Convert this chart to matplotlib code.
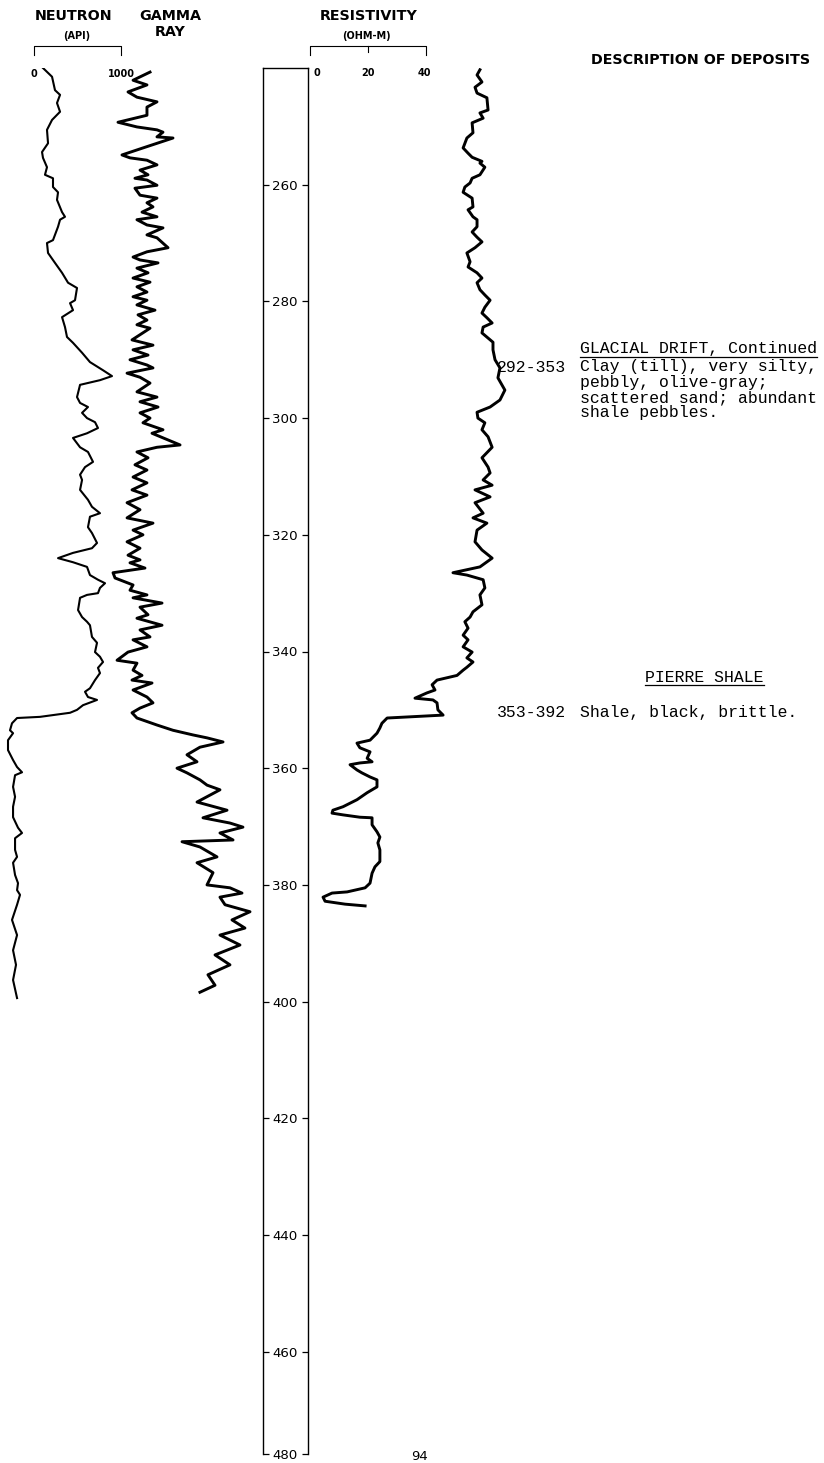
import matplotlib
matplotlib.use("Agg")
import matplotlib.pyplot as plt
from matplotlib import transforms
from matplotlib.lines import Line2D

W, H = 824, 1463

# ---- log data (depth in feet) ----
neutron_depth = [240.0, 241.5, 243.8, 244.6, 246.0, 247.5, 248.9, 250.6, 252.9, 254.4,
                 255.4, 257.0, 258.3, 258.9, 260.4, 261.3, 262.6, 264.7, 265.5, 266.0,
                 267.2, 269.5, 270.0, 271.7, 273.4, 275.1, 276.8, 277.7, 279.8, 280.3,
                 281.5, 282.7, 284.4, 286.1, 287.1, 288.8, 290.4, 291.8, 292.8, 293.5,
                 294.3, 296.4, 297.4, 298.1, 299.1, 300.0, 300.7, 301.7, 302.6, 303.4,
                 305.0, 305.8, 307.5, 308.4, 309.7, 310.6, 312.3, 314.0, 315.2, 316.3,
                 316.9, 318.7, 319.7, 321.4, 322.3, 323.1, 324.0, 324.7, 325.5, 326.9,
                 327.7, 328.3, 329.1, 330.0, 330.3, 330.8, 332.9, 334.1, 334.9, 335.5,
                 337.5, 338.5, 340.1, 340.9, 341.8, 342.8, 343.7, 344.9, 346.3, 346.9,
                 347.8, 348.3, 349.2, 350.0, 350.5, 351.2, 351.4, 352.3, 353.5, 354.0,
                 355.2, 356.9, 358.6, 359.8, 360.7, 361.2, 363.2, 364.9, 366.6, 368.4,
                 370.2, 371.1, 372.0, 374.0, 375.2, 376.2, 378.3, 379.7, 380.9, 381.7,
                 383.4, 386.0, 388.6, 391.2, 393.7, 396.3, 399.4]
neutron_api = [103, 207, 241, 299, 264, 299, 207, 149, 161, 92,
               103, 149, 126, 218, 218, 276, 264, 322, 356, 299,
               276, 218, 149, 161, 241, 322, 391, 494, 471, 414,
               448, 322, 356, 379, 448, 552, 643, 793, 896, 758,
               529, 494, 529, 620, 552, 609, 701, 735, 609, 448,
               529, 620, 678, 586, 529, 552, 529, 620, 666, 758,
               643, 620, 666, 724, 666, 448, 276, 448, 609, 643,
               735, 816, 758, 735, 609, 529, 506, 552, 609, 643,
               666, 724, 701, 758, 793, 735, 758, 701, 643, 586,
               620, 724, 563, 494, 414, 69, -195, -253, -276, -241,
               -299, -299, -241, -195, -138, -218, -241, -218, -241, -241,
               -184, -138, -218, -218, -195, -241, -218, -184, -195, -161,
               -195, -253, -195, -241, -207, -241, -195]

gamma_depth = [240.7, 242.1, 242.9, 244.1, 245.0, 245.8, 246.7, 248.1, 249.3, 250.1,
               250.6, 251.0, 251.8, 252.0, 252.9, 253.7, 254.9, 255.4, 255.8, 256.6,
               257.5, 258.3, 258.9, 259.2, 260.1, 260.6, 261.8, 262.3, 263.1, 263.8,
               264.7, 265.5, 266.0, 266.9, 267.4, 268.6, 269.1, 270.8, 271.5, 272.4,
               272.9, 273.4, 274.3, 275.1, 276.0, 276.7, 277.5, 278.4, 279.2, 279.8,
               280.6, 281.5, 282.3, 283.2, 284.0, 284.6, 286.6, 287.5, 288.3, 289.2,
               290.0, 290.9, 291.4, 292.3, 293.0, 294.0, 295.5, 296.4, 297.2, 298.1,
               299.1, 300.0, 300.8, 302.0, 302.6, 304.6, 305.0, 305.8, 306.8, 308.0,
               308.9, 310.1, 311.1, 312.3, 313.2, 314.5, 315.7, 317.1, 318.0, 319.2,
               320.0, 321.2, 322.3, 323.5, 324.3, 324.8, 325.7, 326.5, 327.4, 328.6,
               329.5, 330.3, 330.8, 331.7, 332.4, 333.7, 334.3, 335.5, 336.3, 337.5,
               338.0, 339.2, 340.1, 341.5, 342.0, 343.2, 344.1, 344.9, 345.4, 346.6,
               347.8, 348.8, 349.7, 350.5, 351.4, 352.6, 353.5, 354.3, 354.8, 355.5,
               356.4, 357.7, 358.9, 360.0, 360.8, 362.0, 362.9, 363.7, 365.8, 367.2,
               368.5, 369.4, 370.1, 371.1, 372.3, 372.6, 373.5, 375.2, 376.2, 377.9,
               380.0, 380.5, 381.4, 382.1, 383.4, 384.6, 386.0, 387.4, 388.6, 390.3,
               392.0, 393.7, 395.4, 397.2, 398.4]
gamma_api = [1333, 1138, 1298, 1080, 1183, 1413, 1298, 1298, 965, 1183,
             1413, 1482, 1413, 1597, 1413, 1252, 1011, 1103, 1298, 1413,
             1218, 1310, 1160, 1298, 1413, 1160, 1218, 1413, 1298, 1367,
             1241, 1413, 1183, 1298, 1482, 1298, 1413, 1540, 1298, 1138,
             1218, 1425, 1183, 1310, 1138, 1333, 1183, 1298, 1138, 1298,
             1183, 1390, 1195, 1298, 1183, 1333, 1126, 1367, 1138, 1310,
             1103, 1298, 1367, 1069, 1218, 1333, 1183, 1413, 1218, 1425,
             1218, 1333, 1252, 1482, 1356, 1678, 1413, 1183, 1310, 1160,
             1298, 1138, 1298, 1126, 1298, 1069, 1218, 1069, 1367, 1138,
             1252, 1069, 1218, 1080, 1218, 1103, 1275, 908, 931, 1138,
             1103, 1298, 1138, 1471, 1218, 1310, 1183, 1471, 1218, 1333,
             1138, 1298, 1080, 954, 1183, 1138, 1241, 1126, 1356, 1138,
             1298, 1367, 1218, 1126, 1183, 1413, 1597, 1827, 1988, 2172,
             1907, 1758, 1873, 1643, 1758, 1907, 1988, 2137, 1873, 2218,
             1942, 2252, 2401, 2137, 2287, 1701, 1907, 2103, 1873, 2057,
             1988, 2252, 2390, 2137, 2195, 2482, 2275, 2424, 2137, 2367,
             2080, 2252, 1999, 2080, 1907]

res_depth = [240.3, 241.2, 242.4, 243.3, 244.3, 245.1, 247.2, 247.7, 248.6, 249.4,
             251.1, 252.0, 253.7, 254.6, 255.3, 256.0, 256.3, 257.0, 258.3, 258.9,
             259.7, 260.4, 261.3, 262.3, 263.8, 264.3, 265.5, 266.0, 267.2, 268.1,
             269.0, 269.8, 270.8, 271.7, 273.2, 274.1, 275.1, 276.0, 276.8, 278.0,
             278.9, 279.8, 281.0, 282.0, 282.8, 283.7, 284.4, 285.4, 287.0, 288.3,
             290.0, 291.4, 293.1, 295.2, 296.9, 298.1, 299.0, 300.0, 300.8, 302.0,
             303.2, 305.0, 306.8, 308.4, 309.4, 310.6, 311.5, 312.3, 313.5, 314.5,
             316.3, 317.1, 318.0, 319.2, 321.2, 322.6, 324.0, 325.5, 326.5, 326.9,
             327.7, 329.1, 330.3, 332.0, 333.2, 334.1, 334.9, 336.0, 337.2, 338.0,
             339.2, 340.1, 341.1, 341.8, 342.7, 343.2, 344.1, 344.9, 345.7, 346.6,
             347.1, 348.0, 348.3, 348.8, 350.0, 350.9, 351.2, 351.4, 352.3, 353.1,
             354.0, 355.2, 355.7, 356.5, 357.2, 358.3, 358.9, 359.1, 359.4, 360.3,
             360.8, 361.5, 362.0, 363.2, 364.2, 365.4, 366.6, 367.2, 367.7, 368.0,
             368.4, 368.5, 369.7, 370.9, 371.8, 372.8, 374.0, 376.0, 376.9, 378.0,
             379.7, 380.5, 381.2, 381.4, 382.1, 382.8, 383.3, 383.6]
res_ohm = [58.6, 57.6, 59.3, 56.9, 57.6, 61.0, 61.4, 58.6, 59.7, 55.9,
           56.2, 54.1, 52.8, 54.5, 55.9, 59.3, 58.6, 60.3, 58.6, 55.9,
           55.2, 53.4, 52.8, 55.9, 56.2, 54.5, 56.2, 57.6, 57.6, 55.9,
           57.6, 59.3, 56.9, 54.1, 55.2, 54.5, 57.6, 59.3, 57.6, 58.6,
           60.3, 62.1, 60.3, 59.3, 61.0, 62.8, 59.7, 59.3, 63.1, 63.1,
           63.8, 65.5, 64.8, 67.2, 65.5, 62.1, 57.6, 57.9, 60.3, 59.3,
           61.4, 62.8, 59.3, 61.4, 62.1, 59.7, 62.8, 56.9, 62.1, 56.9,
           59.7, 56.2, 61.0, 57.6, 56.9, 59.3, 62.8, 58.6, 49.3, 54.1,
           59.7, 60.3, 58.6, 59.3, 56.2, 55.2, 53.4, 54.5, 52.8, 54.5,
           52.8, 55.9, 54.1, 56.2, 54.1, 52.8, 50.7, 43.8, 42.1, 43.1,
           40.3, 36.2, 42.4, 43.8, 44.1, 45.9, 34.5, 26.6, 24.8, 24.1,
           23.1, 20.7, 16.2, 17.2, 20.7, 19.7, 21.4, 17.2, 13.8, 16.2,
           17.9, 20.7, 23.1, 23.1, 19.7, 16.2, 11.4, 7.9, 7.6, 11.4,
           17.2, 21.4, 21.4, 23.1, 24.1, 23.4, 24.1, 24.1, 22.4, 21.4,
           20.7, 19.0, 12.8, 7.6, 4.5, 5.2, 12.1, 19.0]

depth_ticks = [260, 280, 300, 320, 340, 360, 380, 400, 420, 440, 460, 480]
depth_top = 240
px_per_ft = 5.835

units = [
    ("GLACIAL DRIFT, Continued", "292-353",
     ["Clay (till), very silty,", "pebbly, olive-gray;",
      "scattered sand; abundant", "shale pebbles."]),
    ("PIERRE SHALE", "353-392", ["Shale, black, brittle."]),
]


def box(x0, y0, x1, y1):
    return [x0 / W, 1 - y1 / H, (x1 - x0) / W, (y1 - y0) / H]


def fy(y):
    return 1 - y / H


plt.rcParams['font.family'] = ['DejaVu Sans']
fig = plt.figure(figsize=(W / 100, H / 100), dpi=100)

top_px, bot_px = 68, 1454
depth_bottom = depth_top + (bot_px - top_px) / px_per_ft

# neutron + gamma ray track
ax_n = fig.add_axes(box(0, top_px, 262, bot_px))
ax_n.plot(neutron_api, neutron_depth, color='black', lw=1.5, solid_joinstyle='round')
ax_n.plot(gamma_api, gamma_depth, color='black', lw=2.1, solid_joinstyle='round')
ax_n.set_xlim(-391, 2620)
ax_n.set_ylim(depth_bottom, depth_top)
ax_n.axis('off')

# depth column (last label sits on the bottom of the column, as on the log)
ax_d = fig.add_axes(box(263, top_px, 308, bot_px))
ax_d.set_ylim(depth_bottom, depth_top)
ax_d.set_xticks([])
ax_d.set_yticks([min(t, depth_bottom) for t in depth_ticks])
ax_d.set_yticklabels([str(t) for t in depth_ticks])
ax_d.tick_params(axis='y', direction='in', length=4.5, width=0.9, left=True, right=True,
                 pad=-6.8, labelsize=9.6)
for lbl in ax_d.get_yticklabels():
    lbl.set_horizontalalignment('left')
ax_d.spines['bottom'].set_visible(False)
for s in ['left', 'right', 'top']:
    ax_d.spines[s].set_linewidth(1.0)

# resistivity track
ax_r = fig.add_axes(box(310, top_px, 530, bot_px))
ax_r.plot(res_ohm, res_depth, color='black', lw=2.1, solid_joinstyle='round')
ax_r.set_xlim(0, 220 / 2.9)
ax_r.set_ylim(depth_bottom, depth_top)
ax_r.axis('off')

# headers
hdr = dict(fontsize=10.3, fontweight='bold', ha='center', va='center')
fig.text(74 / W, fy(15.5), "NEUTRON", **hdr)
fig.text(170 / W, fy(15.5), "GAMMA", **hdr)
fig.text(170 / W, fy(32), "RAY", **hdr)
fig.text(77 / W, fy(36), "(API)", fontsize=7, fontweight='bold', ha='center', va='center')
fig.text(369 / W, fy(15.5), "RESISTIVITY", **hdr)
fig.text(366 / W, fy(36), "(OHM-M)", fontsize=7, fontweight='bold', ha='center', va='center')
fig.text(701 / W, fy(60), "DESCRIPTION OF DEPOSITS", **hdr)

# scale brackets
sc = dict(fontsize=7, fontweight='bold', va='center')
tn = transforms.blended_transform_factory(ax_n.transData, fig.transFigure)
ax_n.add_line(Line2D([0, 0, 1000, 1000], [fy(55), fy(46), fy(46), fy(55)],
                     transform=tn, color='black', lw=0.8, clip_on=False))
fig.text(0, fy(74), "0", transform=tn, ha='center', **sc)
fig.text(1000, fy(74), "1000", transform=tn, ha='center', **sc)

tr = transforms.blended_transform_factory(ax_r.transData, fig.transFigure)
ax_r.add_line(Line2D([0, 0, 40, 40], [fy(55), fy(46), fy(46), fy(55)],
                     transform=tr, color='black', lw=0.8, clip_on=False))
ax_r.add_line(Line2D([20, 20], [fy(46), fy(52)], transform=tr, color='black', lw=0.8,
                     clip_on=False))
fig.text(1.1, fy(73), "0", transform=tr, ha='left', **sc)
fig.text(20, fy(73), "20", transform=tr, ha='center', **sc)
fig.text(39.5, fy(73), "40", transform=tr, ha='center', **sc)

# description of deposits
mono = dict(family='Liberation Mono', fontsize=11.9, va='center')
head_y = [349, 678]
head_x = [580, 645]
first_gap = [18, 35]
for (title, interval, lines), hy, hx, gap in zip(units, head_y, head_x, first_gap):
    t = fig.text(hx / W, fy(hy), title, **mono)
    fig.canvas.draw()
    bb = t.get_window_extent()
    fig.add_artist(Line2D([bb.x0 / W, bb.x1 / W], [fy(hy + 7.5), fy(hy + 7.5)],
                          color='black', lw=0.9))
    fig.text(497 / W, fy(hy + gap), interval, **mono)
    for i, line in enumerate(lines):
        fig.text(580 / W, fy(hy + gap + 15.3 * i), line, **mono)

fig.text(420 / W, fy(1450), "94", fontsize=9.5, ha='center', va='top')

fig.savefig("out.png", dpi=100)
